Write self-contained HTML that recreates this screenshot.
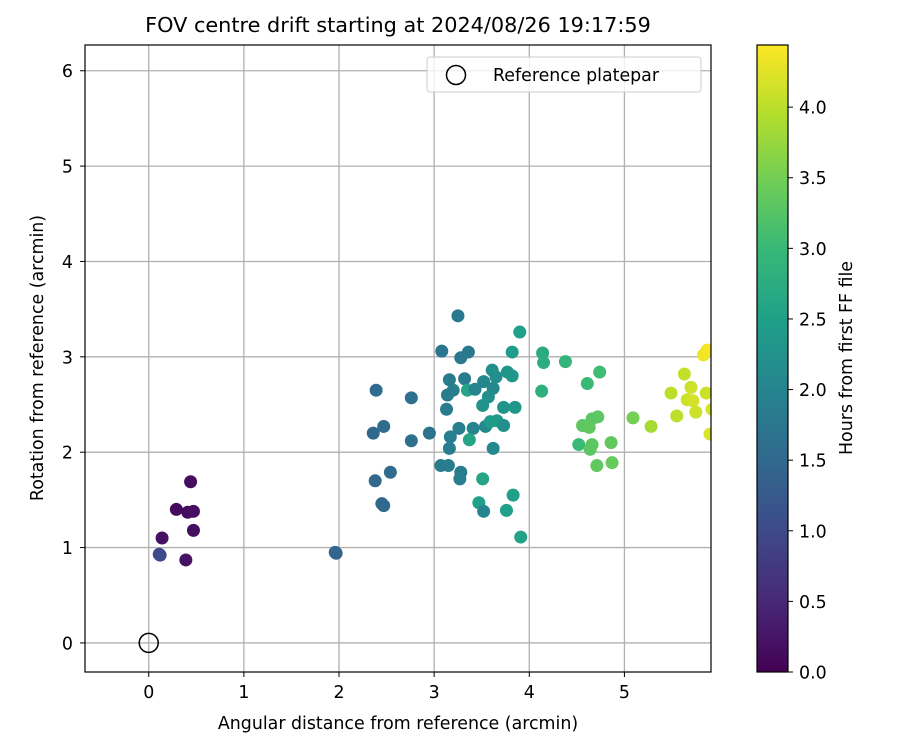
<!DOCTYPE html>
<html><head><meta charset="utf-8"><style>
body{margin:0;background:#fff;}
svg{font-family:"DejaVu Sans","Liberation Sans",sans-serif;}
</style></head><body>
<svg id="chart" width="900" height="750" viewBox="0 0 900 750" xmlns="http://www.w3.org/2000/svg"></svg>
<script>
const xs = [0.44,0.29,0.41,0.47,0.47,0.14,0.12,0.11,0.39,1.97,1.96,
2.39,2.36,2.47,2.38,2.45,2.47,2.54,2.76,2.76,2.95,
3.25,3.90,3.08,3.28,3.36,3.82,4.14,4.15,4.38,3.16,3.32,3.61,3.77,3.82,3.52,3.65,3.35,3.43,3.14,3.20,3.62,3.57,3.51,3.73,3.85,4.13,3.13,
3.26,3.41,3.54,3.59,3.66,3.73,3.17,3.37,3.16,3.62,3.07,3.15,3.28,3.27,3.51,3.83,3.47,3.52,3.76,3.91,
4.74,4.61,5.63,5.83,5.87,5.70,5.49,5.86,5.66,5.72,5.55,5.75,5.92,5.09,5.28,4.72,4.66,4.56,4.63,4.52,4.66,4.64,4.86,4.71,4.87,5.90];
const ys = [1.69,1.40,1.37,1.38,1.18,1.10,0.92,0.93,0.87,0.94,0.95,
2.65,2.20,2.27,1.70,1.46,1.44,1.79,2.57,2.12,2.20,
3.43,3.26,3.06,2.99,3.05,3.05,3.04,2.94,2.95,2.76,2.77,2.86,2.84,2.80,2.74,2.79,2.65,2.66,2.60,2.65,2.67,2.58,2.49,2.47,2.47,2.64,2.45,
2.25,2.25,2.27,2.32,2.33,2.28,2.16,2.13,2.04,2.04,1.86,1.86,1.79,1.72,1.72,1.55,1.47,1.38,1.39,1.11,
2.84,2.72,2.82,3.02,3.07,2.68,2.62,2.62,2.55,2.54,2.38,2.42,2.45,2.36,2.27,2.37,2.35,2.28,2.26,2.08,2.08,2.03,2.10,1.86,1.89,2.19];
const ts = [0.15,0.12,0.14,0.16,0.18,0.2,1.0,1.0,0.22,1.45,1.45,
1.55,1.5,1.55,1.5,1.5,1.5,1.55,1.65,1.65,1.7,
1.8,2.5,1.75,1.8,1.8,2.45,2.7,2.75,2.9,1.85,1.85,2.2,2.3,2.35,2.05,2.2,2.6,2.0,1.85,1.9,2.1,2.2,2.25,2.3,2.35,2.8,1.85,
1.9,2.0,2.1,2.4,2.45,2.2,1.9,2.6,1.9,2.1,1.85,1.9,1.85,1.9,2.6,2.5,2.5,2.0,2.5,2.55,
3.05,3.0,4.05,4.35,4.4,4.1,4.0,4.1,4.1,4.15,4.0,4.1,4.2,3.5,3.85,3.3,3.3,3.3,3.35,3.0,3.3,3.3,3.35,3.35,3.4,4.2];
const xTicks = [0,1,2,3,4,5];
const yTicks = [0,1,2,3,4,5,6];
const cTicks = [0,0.5,1,1.5,2,2.5,3,3.5,4];
const cTickLabels = ["0.0","0.5","1.0","1.5","2.0","2.5","3.0","3.5","4.0"];

const NS="http://www.w3.org/2000/svg";
const svg=document.getElementById('chart');
const L=85,R=711,T=45,B=672;
const xMin=-0.67,xMax=5.91,yMin=-0.305,yMax=6.27,cMax=4.44;
const FS=17.4;
const X=v=>L+(v-xMin)/(xMax-xMin)*(R-L);
const Y=v=>B-(v-yMin)/(yMax-yMin)*(B-T);
const vir=[[68,1,84],[72,40,120],[62,73,137],[49,104,142],[38,130,142],[31,158,137],[53,183,121],[109,205,89],[180,222,44],[253,231,37]];
function cmap(v){let f=Math.max(0,Math.min(1,v/cMax))*9;let i=Math.min(8,Math.floor(f)),r=f-i;
 const c=vir[i].map((a,k)=>Math.round(a+(vir[i+1][k]-a)*r));return `rgb(${c[0]},${c[1]},${c[2]})`;}
function el(tag,attrs,txt){const e=document.createElementNS(NS,tag);for(const k in attrs)e.setAttribute(k,attrs[k]);if(txt!==undefined)e.textContent=txt;svg.appendChild(e);return e;}

xTicks.forEach(v=>{const g=el('line',{x1:X(v),x2:X(v),y1:T,y2:B,stroke:'#b0b0b0','stroke-width':1.3});
});
yTicks.forEach(v=>{const g=el('line',{x1:L,x2:R,y1:Y(v),y2:Y(v),stroke:'#b0b0b0','stroke-width':1.3});
});
const defs=el('defs',{});const cp=document.createElementNS(NS,'clipPath');cp.setAttribute('id','pc');
const cr=document.createElementNS(NS,'rect');cr.setAttribute('x',L);cr.setAttribute('y',T);cr.setAttribute('width',R-L);cr.setAttribute('height',B-T);cp.appendChild(cr);defs.appendChild(cp);
const gp=el('g',{'clip-path':'url(#pc)'});

ts.forEach((tv,i)=>{const c=document.createElementNS(NS,'circle');
c.setAttribute('cx',X(xs[i]));c.setAttribute('cy',Y(ys[i]));c.setAttribute('r',6.5);c.setAttribute('fill',cmap(ts[i]));


gp.appendChild(c);});
const ref=el('circle',{cx:X(0),cy:Y(0),r:9.5,fill:'none',stroke:'#000','stroke-width':1.5});

const fr=el('rect',{x:L,y:T,width:R-L,height:B-T,fill:'none',stroke:'#000','stroke-width':1.2});

xTicks.forEach(v=>{el('line',{x1:X(v),x2:X(v),y1:B,y2:B+5,stroke:'#000'});
const t=el('text',{x:X(v),y:B+26,'font-size':FS,'text-anchor':'middle'},String(v));
});
yTicks.forEach(v=>{el('line',{x1:L-5,x2:L,y1:Y(v),y2:Y(v),stroke:'#000'});
const t=el('text',{x:L-12,y:Y(v)+6.5,'font-size':FS,'text-anchor':'end'},String(v));
});
let t;
t=el('text',{x:398,y:32,'font-size':20.8,'text-anchor':'middle'},'FOV centre drift starting at 2024/08/26 19:17:59');

t=el('text',{x:398,y:729,'font-size':FS,'text-anchor':'middle'},'Angular distance from reference (arcmin)');

t=el('text',{x:43,y:358,'font-size':FS,'text-anchor':'middle',transform:'rotate(-90 43 358)'},'Rotation from reference (arcmin)');

const lg=el('rect',{x:427,y:57,width:274,height:35,rx:3,fill:'#fff','fill-opacity':0.8,stroke:'#ccc'});

el('circle',{cx:456,cy:75,r:9.5,fill:'none',stroke:'#000','stroke-width':1.5});
t=el('text',{x:493,y:81,'font-size':FS},'Reference platepar');

const CL=757,CR=788,CT=45,CB=672;
const grad=document.createElementNS(NS,'linearGradient');grad.setAttribute('id','vg');
grad.setAttribute('x1','0');grad.setAttribute('y1','1');grad.setAttribute('x2','0');grad.setAttribute('y2','0');
vir.forEach((c,i)=>{const s=document.createElementNS(NS,'stop');s.setAttribute('offset',i/9);s.setAttribute('stop-color',`rgb(${c})`);grad.appendChild(s);});
defs.appendChild(grad);
const cb=el('rect',{x:CL,y:CT,width:CR-CL,height:CB-CT,fill:'url(#vg)',stroke:'#000','stroke-width':1.2});

const CY=v=>CB-v/cMax*(CB-CT);
cTicks.forEach((v,i)=>{el('line',{x1:CR,x2:CR+5,y1:CY(v),y2:CY(v),stroke:'#000'});
const tt=el('text',{x:CR+11,y:CY(v)+6.5,'font-size':FS},cTickLabels[i]);
});
t=el('text',{x:858,y:358,'font-size':FS,'text-anchor':'middle',transform:'rotate(-90 852 358)'},'Hours from first FF file');
t.setAttribute('x',852);

</script>
</body></html>
